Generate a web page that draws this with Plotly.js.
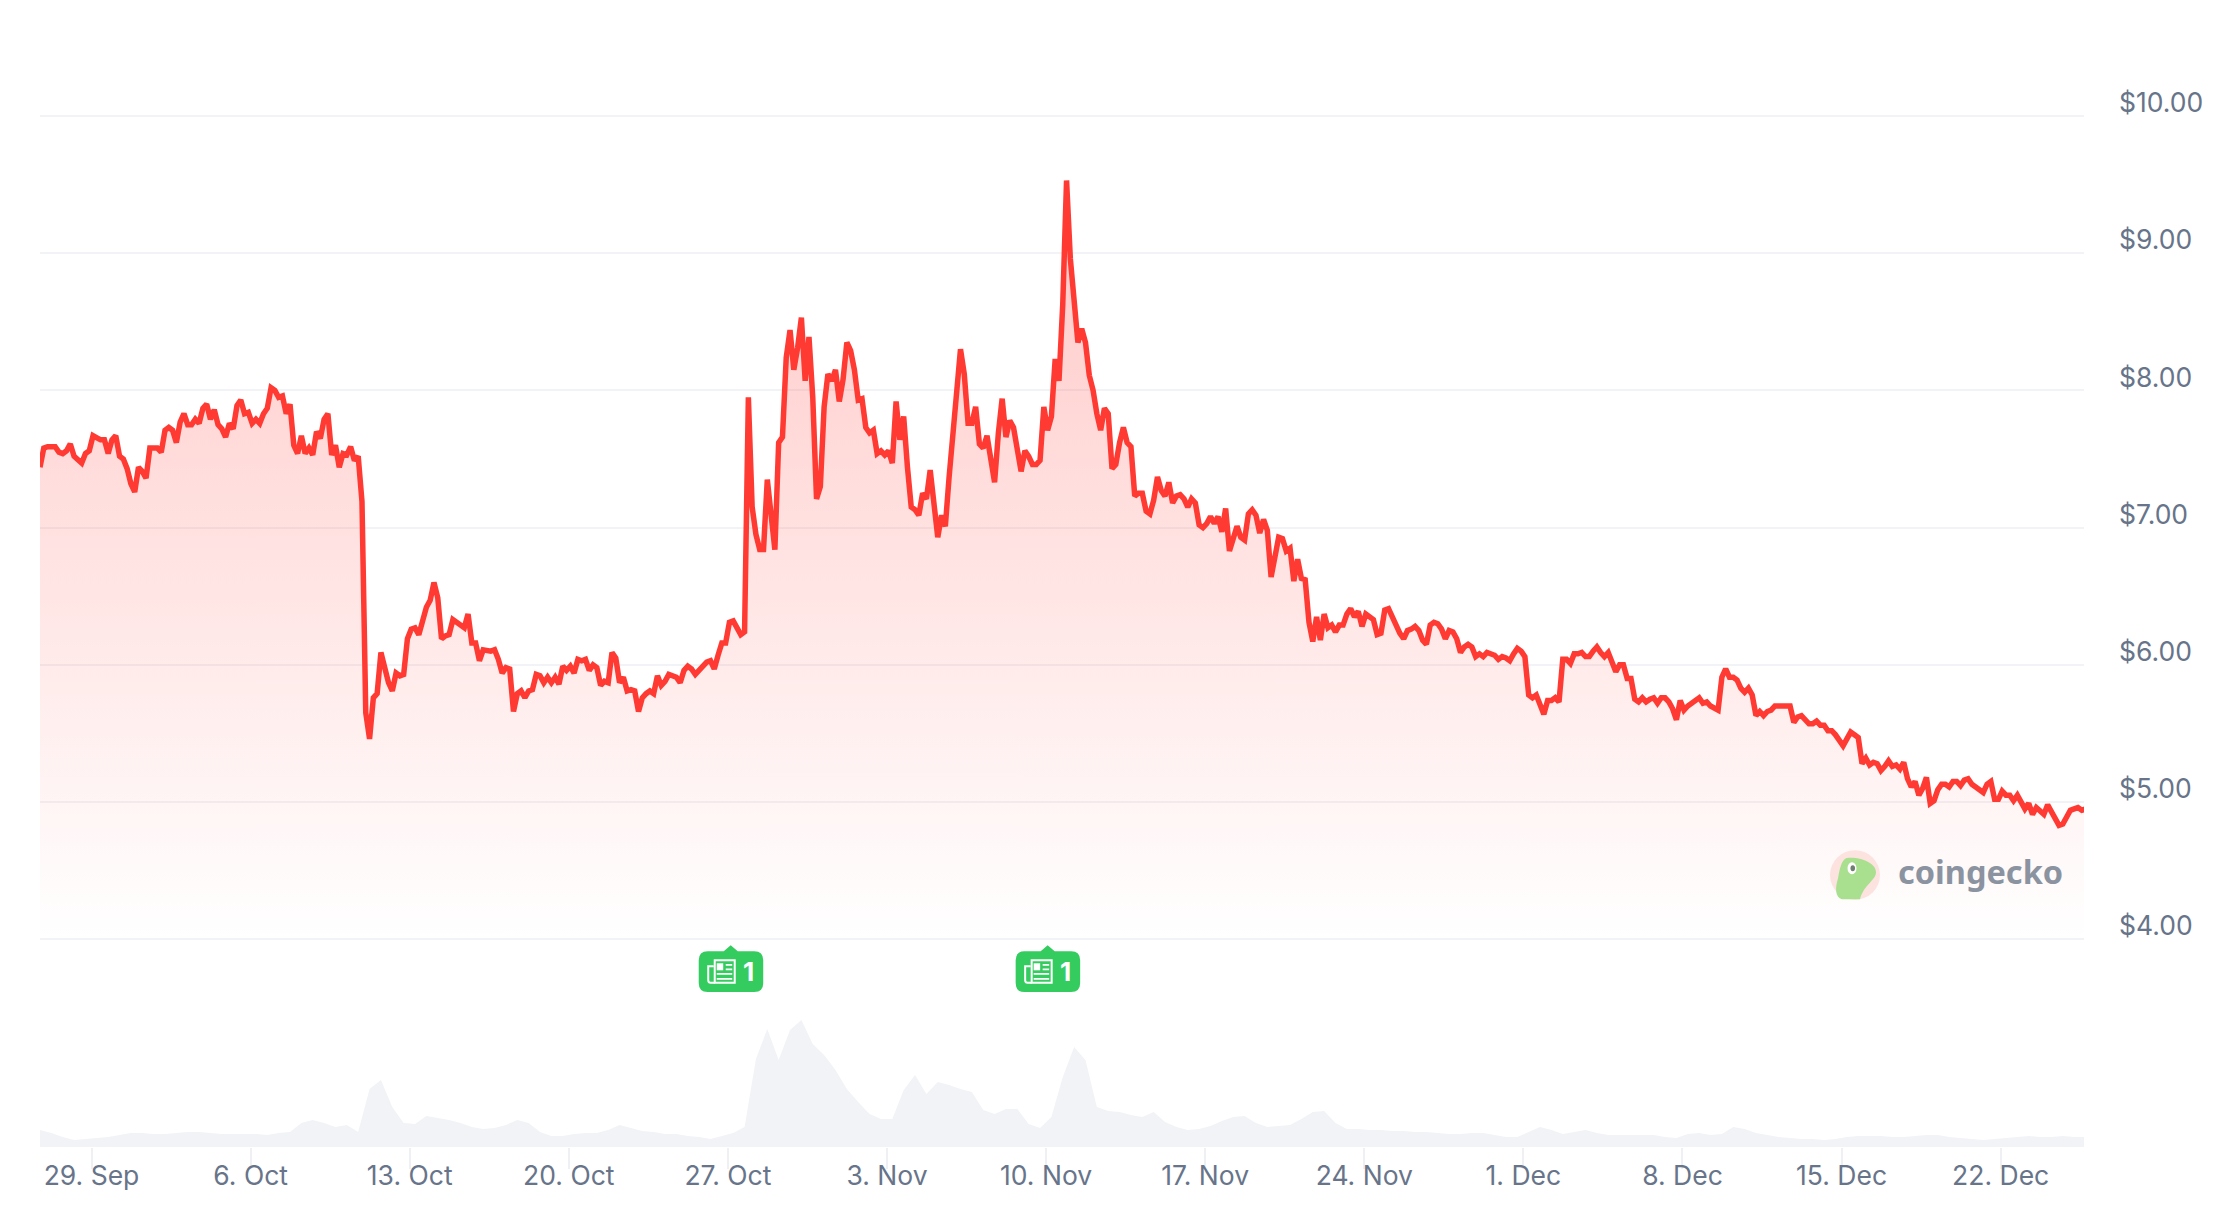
<!DOCTYPE html>
<html><head><meta charset="utf-8">
<script src="https://cdn.plot.ly/plotly-3.0.1.min.js"></script>
<style>html,body{margin:0;padding:0;background:#fff}#chart{width:2220px;height:1208px}</style>
</head><body><div id="chart"></div>
<script>
// Price, USD, one reading every 4 hours
const priceA = [7.44,7.58,7.59,7.59,7.59,7.55,7.54,7.56,7.61,7.52,7.49,7.47,7.54,7.56,7.67,7.65,7.64,7.64,7.54,7.64,7.67,7.52,7.5,7.43,7.32,7.26,7.44,7.41,7.36,7.58,7.58,7.58,7.55,7.71,7.73,7.71,7.62,7.77,7.83,7.75,7.75,7.79,7.76,7.87,7.9,7.79,7.86,7.75,7.72,7.66,7.76,7.72,7.89,7.93,7.83,7.84,7.76,7.79,7.76,7.83,7.87,8.02,8.0,7.95,7.96,7.83,7.9,7.6,7.54,7.67,7.54,7.58,7.53,7.7,7.65,7.79,7.83,7.53,7.6,7.44,7.54,7.53,7.59,7.49,7.52,7.19,5.65,5.46,5.76,5.79];
const priceB = [6.09,5.99,5.87,5.81,5.94,5.92,5.93,6.19,6.26,6.27,6.22,6.32,6.42,6.47,6.6,6.49,6.19,6.21,6.22,6.33,6.31,6.3,6.27,6.37,6.16,6.16,6.03,6.11,6.1,6.1,6.11,6.04,5.94,5.98,5.97,5.66,5.79,5.81,5.76,5.81,5.82,5.93,5.92,5.87,5.91,5.87,5.91,5.86,5.99,5.96,5.99,5.94,6.04,6.03,6.04,5.96,6.0,5.98,5.85,5.88,5.87,6.09,6.05,5.87,5.91,5.81,5.82,5.81,5.66,5.76,5.79,5.81,5.79,5.92,5.85,5.88,5.93,5.92,5.91,5.87,5.96,5.99,5.97,5.93,5.96,5.99,6.02,6.03,5.97,6.07,6.16,6.16,6.31,6.32,6.27];
const priceC = [6.22,6.24,7.95,7.15,6.95,6.84,6.84,7.35,7.08,6.84,7.62,7.66,8.24,8.44,8.15,8.31,8.53,8.07,8.39,7.95,7.21,7.3,7.88,8.12,8.07,8.15,7.92,8.08,8.35,8.29,8.15,7.93,7.94,7.73,7.69,7.71,7.54,7.56,7.53,7.56,7.47,7.92,7.64,7.81,7.44,7.15,7.13,7.09,7.25,7.21,7.42,7.15,6.93,7.09,7.01,7.37,7.71,8.02,8.3,8.12,7.76,7.76,7.88,7.61,7.58,7.67,7.49,7.33,7.69,7.94,7.66,7.78,7.73,7.59,7.41,7.56,7.52,7.46,7.46,7.49,7.88,7.71,7.81,8.23,8.07,8.63,9.53];
const priceD = [8.96,8.68,8.35,8.45,8.35,8.11,8.0,7.83,7.71,7.87,7.83,7.43,7.46,7.62,7.73,7.62,7.59,7.23,7.25,7.25,7.12,7.1,7.2,7.37,7.27,7.23,7.33,7.18,7.23,7.24,7.21,7.15,7.21,7.18,7.02,7.0,7.03,7.08,7.03,7.08,6.97,7.14,6.83,6.92,7.01,6.93,6.91,7.1,7.13,7.09,6.96,7.06,6.98,6.64,6.79,6.93,6.92,6.83,6.85,6.61,6.77,6.63,6.62,6.31,6.17,6.35,6.18,6.37,6.27,6.29,6.24,6.29,6.29,6.37,6.41,6.35,6.39,6.28,6.37,6.35,6.33,6.22,6.23,6.4,6.41,6.35,6.28,6.23];
const priceE = [6.19,6.25,6.26,6.28,6.25,6.18,6.15,6.29,6.31,6.3,6.26,6.19,6.25,6.24,6.19,6.09,6.13,6.15,6.13,6.06,6.08,6.06,6.09,6.08,6.07,6.04,6.06,6.05,6.03,6.08,6.12,6.1,6.06,5.78,5.76,5.78,5.72,5.64,5.74,5.74,5.76,5.73,6.04,6.04,6.01,6.08,6.08,6.09,6.06,6.06,6.1,6.13,6.09,6.06,6.09,6.03,5.95,6.0,6.0,5.9,5.9,5.75,5.73,5.76,5.73,5.75,5.76,5.72,5.76,5.76,5.73,5.68,5.6,5.74,5.67,5.7,5.72,5.75,5.76,5.72,5.73,5.7,5.68,5.67,5.91,5.97,5.91,5.91,5.89];
const priceF = [5.83,5.8,5.83,5.78,5.63,5.66,5.63,5.66,5.67,5.7,5.7,5.69,5.7,5.7,5.58,5.62,5.63,5.6,5.57,5.57,5.59,5.56,5.56,5.52,5.52,5.49,5.45,5.41,5.46,5.51,5.49,5.47,5.28,5.32,5.27,5.29,5.28,5.23,5.26,5.3,5.26,5.27,5.24,5.29,5.17,5.11,5.15,5.05,5.1,5.18,4.99,5.01,5.09,5.13,5.13,5.11,5.15,5.15,5.12,5.16,5.17,5.13,5.11,5.09,5.07,5.13,5.15,5.02,5.02,5.08,5.05,5.05,5.01,5.05,5.0,4.95,4.99,4.91,4.96,4.93,4.91,4.98,4.93,4.9,4.83,4.84,4.9,4.94,4.95,4.96,4.94,4.95];
// Trading volume, relative units, one reading every 12 hours
const volumeValues = [17,14,10,7,8,9,10,12,14,14,13,13,14,15,15,14,13,13,13,13,12,14,15,24,27,24,20,22,15,58,67,40,24,23,31,29,27,24,20,18,19,22,27,24,15,11,11,13,14,14,17,22,19,16,15,13,13,11,10,8,11,14,20,88,118,87,117,127,103,92,77,58,45,33,28,28,57,72,53,65,62,58,55,37,33,38,38,23,19,30,70,100,87,40,36,35,32,30,35,25,20,17,18,21,26,30,31,24,20,21,22,28,35,36,24,18,18,17,17,16,16,15,15,14,13,13,14,14,12,10,10,15,20,17,13,15,17,14,12,12,12,12,12,10,9,13,14,12,13,20,18,14,12,10,9,8,8,7,8,10,11,11,11,10,10,11,12,12,10,9,8,7,8,9,10,11,10,10,11,10,10];
const tickDates = ['2025-09-29','2025-10-06','2025-10-13','2025-10-20','2025-10-27','2025-11-03','2025-11-10','2025-11-17','2025-11-24','2025-12-01','2025-12-08','2025-12-15','2025-12-22'];
const tickLabels = ['29. Sep','6. Oct','13. Oct','20. Oct','27. Oct','3. Nov','10. Nov','17. Nov','24. Nov','1. Dec','8. Dec','15. Dec','22. Dec'];
const priceTicks = [4,5,6,7,8,9,10];
const priceLabels = ['$4.00','$5.00','$6.00','$7.00','$8.00','$9.00','$10.00'];
const newsDates = ['2025-10-27 03:00','2025-11-10 01:40'];
const newsCounts = ['1','1'];
const startTime = '2025-09-26T17:37:00Z';
const endTime = '2025-12-25T16:00:00Z';

const priceValues = [].concat(priceA, priceB, priceC, priceD, priceE, priceF);
const t0 = Date.parse(startTime), HOUR = 3600000;
const priceTimes = priceValues.map((_, i) => t0 + i * 4 * HOUR);
const volumeTimes = volumeValues.map((_, i) => t0 + i * 12 * HOUR);

const L = 40, R = 2084, T = 40, B = 1146.7;
const W = 2220, H = 1208;
const px = x => (x - L) / (R - L), py = y => (B - y) / (B - T);
const FONT = 'Inter, "Noto Sans", sans-serif';
const SLATE = '#677489';
const PRICE_MIN = 2.486, PRICE_MAX = 10.554, LABEL_DROP = 0.04;

const traces = [
  {type:'scatter', mode:'none', x:volumeTimes, y:volumeValues, yaxis:'y2', fill:'tozeroy',
   fillcolor:'#f2f3f7', hoverinfo:'skip', showlegend:false},
  {type:'scatter', mode:'lines', x:priceTimes, y:priceValues, yaxis:'y', fill:'tozeroy',
   line:{color:'#ff3a33', width:5.5, shape:'linear'},
   fillgradient:{type:'vertical', start:4, stop:9.5,
     colorscale:[[0,'rgba(255,58,51,0)'],[1,'rgba(255,58,51,0.28)']]},
   showlegend:false},
  // carries the price-label axis, which sits a few pixels above its gridline
  {type:'scatter', mode:'lines', x:[priceTimes[0]], y:[priceValues[0]], yaxis:'y3', hoverinfo:'skip', showlegend:false,
   line:{color:'rgba(0,0,0,0)', width:0}}
];

const shapes = [], annotations = [];
const GREEN = '#34cc5f';
function flagPath(l, r, top, bot, rad) {
  return `M -7 ${top} L 0 0 L 7 ${top} L ${r-rad} ${top} Q ${r} ${top} ${r} ${top-rad} L ${r} ${bot+rad} Q ${r} ${bot} ${r-rad} ${bot} ` +
         `L ${l+rad} ${bot} Q ${l} ${bot} ${l} ${bot+rad} L ${l} ${top-rad} Q ${l} ${top} ${l+rad} ${top} Z`;
}
const flagY = 3.956;
newsDates.forEach((d, k) => {
  const base = {type:'path', xref:'x', yref:'y', xsizemode:'pixel', ysizemode:'pixel', xanchor:d, yanchor:flagY, layer:'above'};
  shapes.push({...base, path:flagPath(-32, 32.5, -6, -46.7, 9), fillcolor:GREEN, line:{width:0}});
  const stroke = {...base, fillcolor:'rgba(0,0,0,0)', line:{color:'#fff', width:2}};
  shapes.push({...stroke, path:'M -16 -15 L 4 -15 L 4 -37.5 L -16 -37.5 Z'});
  shapes.push({...stroke, path:'M -17 -21 L -22.5 -21 L -22.5 -35 Q -22.5 -37.5 -20 -37.5 L -16 -37.5'});
  shapes.push({...base, path:'M -14 -18 L -7.5 -18 L -7.5 -25 L -14 -25 Z', fillcolor:'#fff', line:{width:0}});
  shapes.push({...stroke, path:'M -5 -19.5 L 1.5 -19.5 M -5 -24 L 1.5 -24 M -14 -28.5 L 1.5 -28.5 M -14 -33.5 L 1.5 -33.5', line:{color:'#fff', width:1.8}});
  annotations.push({xref:'x', yref:'y', x:d, y:flagY, text:'<b>'+newsCounts[k]+'</b>', showarrow:false,
    xshift:17.5, yshift:-26.5, font:{family:FONT, size:26, color:'#fff'}});
});

// Watermark, in paper coordinates
shapes.push({type:'circle', xref:'paper', yref:'paper', x0:px(1830), x1:px(1880), y0:py(899.5), y1:py(850), fillcolor:'#fde3df', line:{width:0}, layer:'above'});
shapes.push({type:'path', xref:'paper', yref:'paper', layer:'above', fillcolor:'#a9e08f', line:{width:0},
  path:`M ${px(1846)} ${py(858)} C ${px(1858)} ${py(856)} ${px(1876)} ${py(862)} ${px(1876)} ${py(872)} C ${px(1876)} ${py(880)} ${px(1864)} ${py(884)} ${px(1860)} ${py(899)} L ${px(1842)} ${py(899)} C ${px(1835)} ${py(897)} ${px(1835)} ${py(888)} ${px(1838)} ${py(878)} C ${px(1840)} ${py(868)} ${px(1841)} ${py(861)} ${px(1846)} ${py(858)} Z`});
shapes.push({type:'circle', xref:'paper', yref:'paper', layer:'above', x0:px(1847.5), x1:px(1856.5), y0:py(874), y1:py(862), fillcolor:'#ffffff', line:{width:0}});
shapes.push({type:'circle', xref:'paper', yref:'paper', layer:'above', x0:px(1850.5), x1:px(1855), y0:py(871), y1:py(865), fillcolor:'#6f7d72', line:{width:0}});
annotations.push({xref:'paper', yref:'paper', x:px(1980), y:py(871), xanchor:'center', yanchor:'middle', text:'<b>coingecko</b>', showarrow:false,
  font:{family:'"Noto Sans", sans-serif', size:32.5, color:'#8b93a0'}});

const layout = {
  width:W, height:H, paper_bgcolor:'#fff', plot_bgcolor:'#fff', showlegend:false,
  margin:{l:L, r:W-R, t:T, b:H-B, pad:0},
  xaxis:{type:'date', range:[t0, Date.parse(endTime)], tickmode:'array', tickvals:tickDates, ticktext:tickLabels,
    ticks:'outside', ticklen:21, tickwidth:2, tickcolor:'#eff0f4', showgrid:false, zeroline:false, showline:false,
    tickangle:0, tickfont:{family:FONT, size:26.5, color:SLATE}, ticklabelstandoff:-16},
  yaxis:{side:'right', range:[PRICE_MIN, PRICE_MAX], tickmode:'array', tickvals:priceTicks, showticklabels:false,
    ticks:'', showgrid:true, gridcolor:'#f2f3f7', gridwidth:2, zeroline:false, showline:false},
  yaxis2:{overlaying:'y', side:'left', range:[0, 1106.7], visible:false, showgrid:false, zeroline:false},
  yaxis3:{overlaying:'y', side:'right', range:[PRICE_MIN+LABEL_DROP, PRICE_MAX+LABEL_DROP], tickmode:'array', tickvals:priceTicks, ticktext:priceLabels,
    ticks:'', showgrid:false, zeroline:false, showline:false,
    ticklabelposition:'outside top', ticklabelstandoff:34, tickfont:{family:FONT, size:26.5, color:SLATE}},
  shapes, annotations
};
Plotly.newPlot('chart', traces, layout, {displayModeBar:false, responsive:false});
</script></body></html>
